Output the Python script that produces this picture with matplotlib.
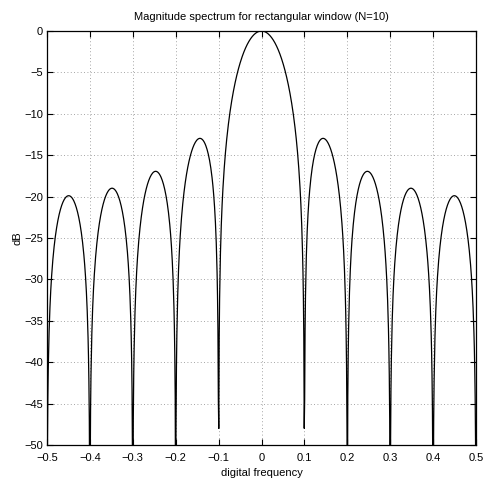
import numpy as np
import matplotlib
matplotlib.use("Agg")
import matplotlib.pyplot as plt

plt.rcParams['font.family'] = ['Liberation Sans', 'DejaVu Sans']

# Data: rectangular window of length N, spectrum via zero-padded FFT
N = 10
window = np.ones(N)
nfft = 1024
xticks = [-0.5, -0.4, -0.3, -0.2, -0.1, 0, 0.1, 0.2, 0.3, 0.4, 0.5]
xtick_labels = ['\u22120.5', '\u22120.4', '\u22120.3', '\u22120.2', '\u22120.1', '0', '0.1', '0.2', '0.3', '0.4', '0.5']
yticks = [-50, -45, -40, -35, -30, -25, -20, -15, -10, -5, 0]
ytick_labels = ['\u221250', '\u221245', '\u221240', '\u221235', '\u221230', '\u221225', '\u221220', '\u221215', '\u221210', '\u22125', '0']

W = np.fft.fftshift(np.fft.fft(window, nfft))
f = np.fft.fftshift(np.fft.fftfreq(nfft))
with np.errstate(divide='ignore'):
    mag_db = 20 * np.log10(np.abs(W) / np.abs(W).max())
mag_db = np.maximum(mag_db, -200)

fig = plt.figure(figsize=(4.84, 4.82), dpi=100)
ax = fig.add_axes([47/484, 1 - 445/482, (476 - 47)/484, (445 - 31)/482])
ax.plot(f, mag_db, color='black', linewidth=0.9)
ax.set_xlim(-0.5, 0.5)
ax.set_ylim(-50, 0)
ax.set_xticks(xticks)
ax.set_xticklabels(xtick_labels)
ax.set_yticks(yticks)
ax.set_yticklabels(ytick_labels)
ax.grid(True, linestyle=(0, (1, 3)), color='#888888', linewidth=0.6)
ax.tick_params(direction='in', top=True, right=True, labelsize=8, length=4, width=0.8)
ax.tick_params(axis='x', pad=6)
ax.tick_params(axis='y', pad=3)
for s in ax.spines.values():
    s.set_linewidth(0.9)
ax.set_xlabel('digital frequency', fontsize=8, labelpad=3)
ax.set_ylabel('dB', fontsize=8, labelpad=1)
ax.set_title('Magnitude spectrum for rectangular window (N=10)', fontsize=8, pad=8)

fig.savefig('out.png', dpi=100)
